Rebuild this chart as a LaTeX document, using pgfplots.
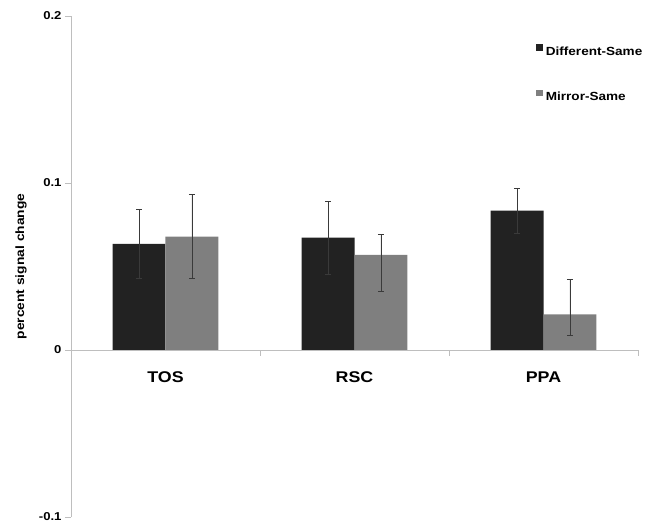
\documentclass[border=0pt]{standalone}
\usepackage{fontspec}
\setmainfont{Liberation Sans}[FakeStretch=1.15]
\usepackage{pgfplots}
\pgfplotsset{compat=1.18}
\definecolor{darkbar}{HTML}{222222}
\definecolor{lightbar}{HTML}{7F7F7F}
\definecolor{axisgray}{HTML}{BEBEBE}
\definecolor{errgray}{HTML}{3A3A3A}
\begin{document}
\begin{tikzpicture}
\begin{axis}[
  at={(0,0)}, anchor=south west,
  scale only axis, width=567bp, height=501bp,
  ybar=0pt, bar width=0.28,
  xmin=-0.5, xmax=2.5, ymin=-0.1, ymax=0.2,
  axis x line*=middle, axis y line*=left,
  hide obscured x ticks=false, hide obscured y ticks=false,
  axis line style={axisgray, line width=0.8bp},
  xtick={0,1,2}, xticklabels={TOS,RSC,PPA},
  minor xtick={0.5,1.5,2.5},
  ytick={-0.1,0,0.1,0.2}, yticklabels={-0.1,0,0.1,0.2},
  tick align=outside,
  major tick length=6bp, minor tick length=6bp,
  major x tick style={draw=none},
  minor x tick style={axisgray, line width=0.8bp},
  y tick style={axisgray, line width=0.8bp},
  xticklabel style={font=\fontsize{15.5bp}{17bp}\selectfont\bfseries, yshift=-12bp},
  yticklabel style={font=\fontsize{11.4bp}{13bp}\selectfont\bfseries},
  ylabel={percent signal change},
  ylabel style={font=\fontsize{12bp}{14bp}\selectfont\bfseries, at={(axis description cs:-0.088,0.5)}, anchor=center},
  legend style={draw=none, fill=none, at={(rel axis cs:0.820,0.8872)}, anchor=west,
    inner sep=0pt, column sep=3bp, row sep=34bp,
    nodes={inner sep=0pt, text height=8bp, text depth=0pt},
    font=\fontsize{11.8bp}{13bp}\selectfont\bfseries},
  legend cell align=left,
  legend image code/.code={\fill[#1] (0bp,0.5bp) rectangle (6.7bp,7.2bp);},
  error bars/y dir=both, error bars/y explicit,
  error bars/error mark=-,
  error bars/error bar style={draw=errgray, line width=0.7bp},
  error bars/error mark options={draw=errgray, line width=0.7bp, mark size=3bp, rotate=90},
]
\addplot[fill=darkbar, draw=none]
  coordinates {
    (0,0.0635) += (0,0.0207) -= (0,0.0204)
    (1,0.0673) += (0,0.0219) -= (0,0.0218)
    (2,0.0834) += (0,0.0133) -= (0,0.0135)
  };
\addlegendentry{Different-Same}
\addplot[fill=lightbar, draw=none]
  coordinates {
    (0,0.0679) += (0,0.0251) -= (0,0.0250)
    (1,0.0569) += (0,0.0124) -= (0,0.0216)
    (2,0.0213) += (0,0.0212) -= (0,0.0123)
  };
\addlegendentry{Mirror-Same}
\end{axis}
\pgfresetboundingbox
\useasboundingbox (-71bp,-8bp) rectangle (584bp,517bp);
\end{tikzpicture}
\end{document}
